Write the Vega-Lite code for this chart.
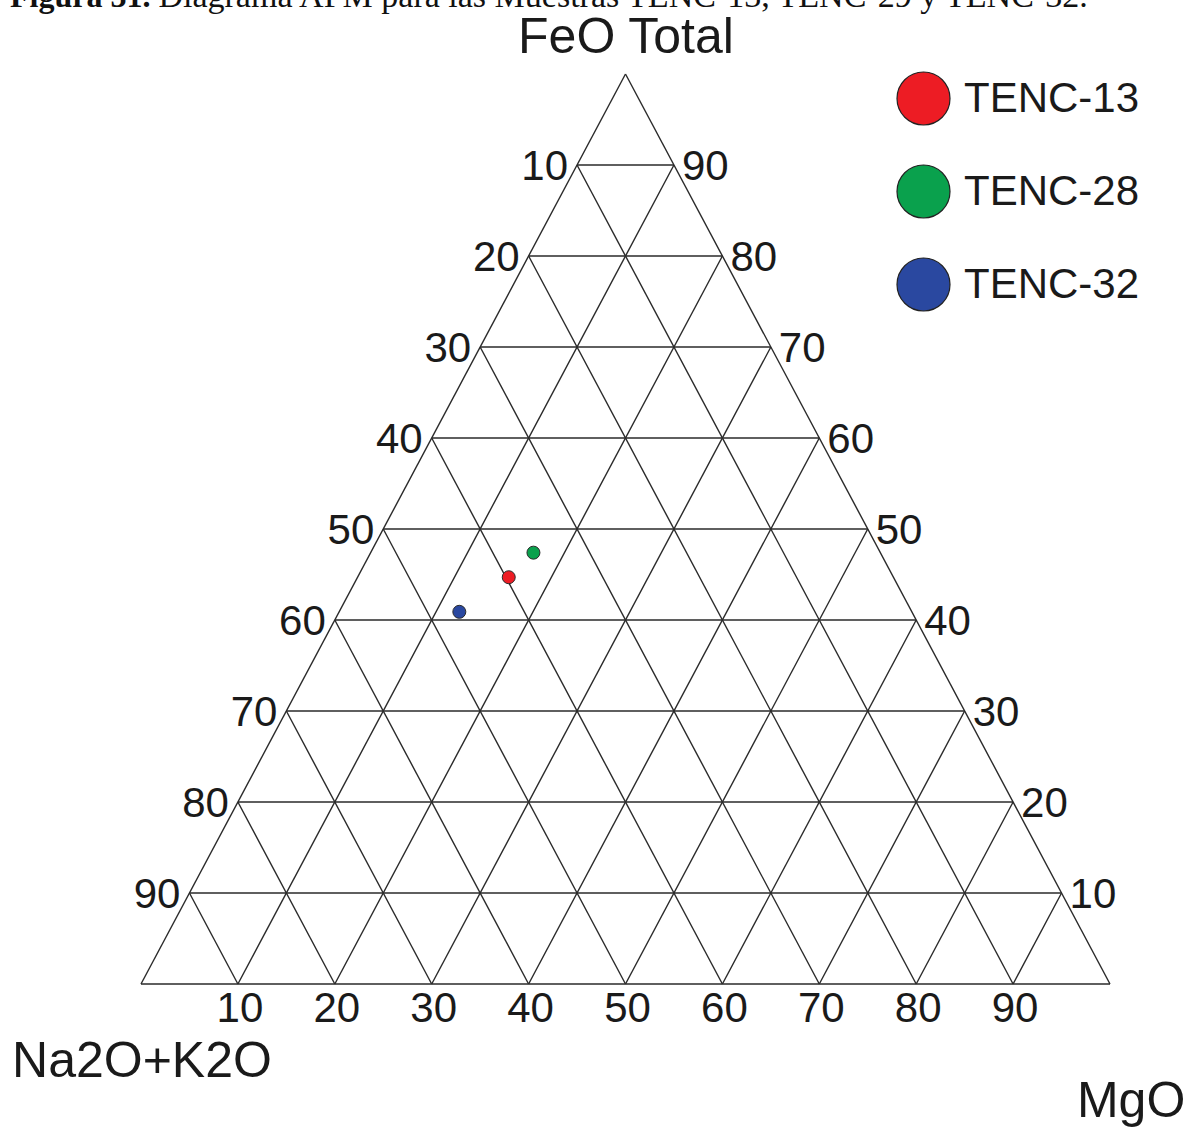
{
  "$schema": "https://vega.github.io/schema/vega-lite/v6.json",
  "width": 1200,
  "height": 1132,
  "autosize": {"type": "none"},
  "padding": 0,
  "background": "white",
  "config": {
    "view": {"stroke": null},
    "text": {"font": "Liberation Sans", "color": "#1a1a1a"}
  },
  "datasets": {
    "grid": [
      {"x": 0, "y": 0, "x2": 100, "y2": 0},
      {"x": 0, "y": 0, "x2": 50, "y2": 100},
      {"x": 100, "y": 0, "x2": 50, "y2": 100},
      {"x": 5, "y": 10, "x2": 95, "y2": 10},
      {"x": 10, "y": 20, "x2": 90, "y2": 20},
      {"x": 15, "y": 30, "x2": 85, "y2": 30},
      {"x": 20, "y": 40, "x2": 80, "y2": 40},
      {"x": 25, "y": 50, "x2": 75, "y2": 50},
      {"x": 30, "y": 60, "x2": 70, "y2": 60},
      {"x": 35, "y": 70, "x2": 65, "y2": 70},
      {"x": 40, "y": 80, "x2": 60, "y2": 80},
      {"x": 45, "y": 90, "x2": 55, "y2": 90},
      {"x": 10, "y": 0, "x2": 55, "y2": 90},
      {"x": 20, "y": 0, "x2": 60, "y2": 80},
      {"x": 30, "y": 0, "x2": 65, "y2": 70},
      {"x": 40, "y": 0, "x2": 70, "y2": 60},
      {"x": 50, "y": 0, "x2": 75, "y2": 50},
      {"x": 60, "y": 0, "x2": 80, "y2": 40},
      {"x": 70, "y": 0, "x2": 85, "y2": 30},
      {"x": 80, "y": 0, "x2": 90, "y2": 20},
      {"x": 90, "y": 0, "x2": 95, "y2": 10},
      {"x": 10, "y": 0, "x2": 5, "y2": 10},
      {"x": 20, "y": 0, "x2": 10, "y2": 20},
      {"x": 30, "y": 0, "x2": 15, "y2": 30},
      {"x": 40, "y": 0, "x2": 20, "y2": 40},
      {"x": 50, "y": 0, "x2": 25, "y2": 50},
      {"x": 60, "y": 0, "x2": 30, "y2": 60},
      {"x": 70, "y": 0, "x2": 35, "y2": 70},
      {"x": 80, "y": 0, "x2": 40, "y2": 80},
      {"x": 90, "y": 0, "x2": 45, "y2": 90}
    ],
    "ticks": [
      {"side": "left", "x": 45, "y": 90, "label": "10"},
      {"side": "left", "x": 40, "y": 80, "label": "20"},
      {"side": "left", "x": 35, "y": 70, "label": "30"},
      {"side": "left", "x": 30, "y": 60, "label": "40"},
      {"side": "left", "x": 25, "y": 50, "label": "50"},
      {"side": "left", "x": 20, "y": 40, "label": "60"},
      {"side": "left", "x": 15, "y": 30, "label": "70"},
      {"side": "left", "x": 10, "y": 20, "label": "80"},
      {"side": "left", "x": 5, "y": 10, "label": "90"},
      {"side": "right", "x": 55, "y": 90, "label": "90"},
      {"side": "right", "x": 60, "y": 80, "label": "80"},
      {"side": "right", "x": 65, "y": 70, "label": "70"},
      {"side": "right", "x": 70, "y": 60, "label": "60"},
      {"side": "right", "x": 75, "y": 50, "label": "50"},
      {"side": "right", "x": 80, "y": 40, "label": "40"},
      {"side": "right", "x": 85, "y": 30, "label": "30"},
      {"side": "right", "x": 90, "y": 20, "label": "20"},
      {"side": "right", "x": 95, "y": 10, "label": "10"},
      {"side": "bottom", "x": 10, "y": 0, "label": "10"},
      {"side": "bottom", "x": 20, "y": 0, "label": "20"},
      {"side": "bottom", "x": 30, "y": 0, "label": "30"},
      {"side": "bottom", "x": 40, "y": 0, "label": "40"},
      {"side": "bottom", "x": 50, "y": 0, "label": "50"},
      {"side": "bottom", "x": 60, "y": 0, "label": "60"},
      {"side": "bottom", "x": 70, "y": 0, "label": "70"},
      {"side": "bottom", "x": 80, "y": 0, "label": "80"},
      {"side": "bottom", "x": 90, "y": 0, "label": "90"}
    ],
    "samples": [
      {"sample": "TENC-13", "FeO": 44.7, "MgO": 15.6, "Na2O_K2O": 39.7},
      {"sample": "TENC-28", "FeO": 47.4, "MgO": 16.8, "Na2O_K2O": 35.8},
      {"sample": "TENC-32", "FeO": 40.9, "MgO": 12.4, "Na2O_K2O": 46.7}
    ]
  },
  "encoding": {
    "x": {"field": "x", "type": "quantitative", "axis": null, "scale": {"domain": [-14.551, 109.288], "nice": false, "zero": false}},
    "y": {"field": "y", "type": "quantitative", "axis": null, "scale": {"domain": [-16.264, 108.132], "nice": false, "zero": false}}
  },
  "layer": [
    {
      "data": {"name": "grid"},
      "mark": {"type": "rule", "stroke": "#2a2a2a", "strokeWidth": 1.4},
      "encoding": {
        "x2": {"field": "x2"},
        "y2": {"field": "y2"}
      }
    },
    {
      "data": {"name": "samples"},
      "transform": [
        {"calculate": "datum.MgO + datum.FeO / 2", "as": "x"},
        {"calculate": "datum.FeO", "as": "y"}
      ],
      "mark": {"type": "circle", "size": 169, "opacity": 1, "stroke": "#2b2b2b", "strokeWidth": 1},
      "encoding": {
        "color": {
          "field": "sample",
          "type": "nominal",
          "scale": {"domain": ["TENC-13", "TENC-28", "TENC-32"], "range": ["#ed1c24", "#0aa14d", "#2a48a0"]},
          "legend": {
            "orient": "none",
            "legendX": 896,
            "legendY": 71,
            "title": null,
            "padding": 0,
            "symbolType": "circle",
            "symbolSize": 2809,
            "symbolStrokeColor": "#222222",
            "symbolStrokeWidth": 1.2,
            "symbolOpacity": 1,
            "labelFont": "Liberation Sans",
            "labelFontSize": 42,
            "labelColor": "#1a1a1a",
            "labelOffset": 13,
            "labelLimit": 400,
            "rowPadding": 34
          }
        }
      }
    },
    {
      "data": {"name": "ticks"},
      "transform": [{"filter": "datum.side == 'left'"}],
      "mark": {"type": "text", "fontSize": 42, "align": "right", "baseline": "alphabetic", "dx": -9, "dy": 15},
      "encoding": {"text": {"field": "label"}}
    },
    {
      "data": {"name": "ticks"},
      "transform": [{"filter": "datum.side == 'right'"}],
      "mark": {"type": "text", "fontSize": 42, "align": "left", "baseline": "alphabetic", "dx": 8, "dy": 15},
      "encoding": {"text": {"field": "label"}}
    },
    {
      "data": {"name": "ticks"},
      "transform": [{"filter": "datum.side == 'bottom'"}],
      "mark": {"type": "text", "fontSize": 42, "align": "center", "baseline": "alphabetic", "dx": 2, "dy": 38},
      "encoding": {"text": {"field": "label"}}
    },
    {
      "data": {"values": [{"x": 50.05, "y": 102.3, "label": "FeO Total"}]},
      "mark": {"type": "text", "fontSize": 50, "align": "center", "baseline": "alphabetic"},
      "encoding": {"text": {"field": "label"}}
    },
    {
      "data": {"values": [{"x": -13.31, "y": -10.2, "label": "Na2O+K2O"}]},
      "mark": {"type": "text", "fontSize": 50, "align": "left", "baseline": "alphabetic"},
      "encoding": {"text": {"field": "label"}}
    },
    {
      "data": {"values": [{"x": 96.59, "y": -14.62, "label": "MgO"}]},
      "mark": {"type": "text", "fontSize": 50, "align": "left", "baseline": "alphabetic"},
      "encoding": {"text": {"field": "label"}}
    },
    {
      "data": {"values": [{"x": -13.52, "y": 107.35, "label": "Figura 31."}]},
      "mark": {"type": "text", "font": "Liberation Serif", "fontWeight": "bold", "fontSize": 32, "align": "left", "baseline": "alphabetic", "color": "#111111"},
      "encoding": {"text": {"field": "label"}}
    },
    {
      "data": {"values": [{"x": 1.8, "y": 107.35, "label": "Diagrama AFM para las Muestras TENC-13, TENC-29 y TENC-32."}]},
      "mark": {"type": "text", "font": "Liberation Serif", "fontSize": 34, "align": "left", "baseline": "alphabetic", "color": "#111111"},
      "encoding": {"text": {"field": "label"}}
    }
  ]
}
